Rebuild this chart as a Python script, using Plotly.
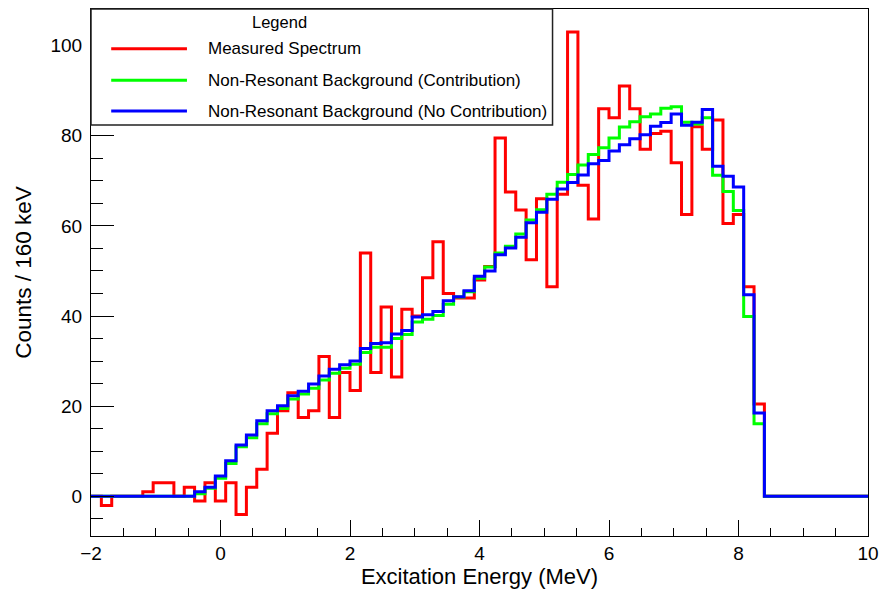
import numpy as np
import plotly.graph_objects as go

# Histogram binning (MeV)
x_min = -2.0
bin_width = 0.16
n_bins = 75

series_names = [
    "Measured Spectrum",
    "Non-Resonant Background (Contribution)",
    "Non-Resonant Background (No Contribution)",
]

measured = [0, -2, 0, 0, 0, 1, 3, 3, 0, 2,
            -1, 3, -1, 3, -4, 2, 6, 14, 19, 23,
            17.5, 19, 31, 17.5, 27.5, 23.5, 54, 27.5, 42, 26.5,
            41.5, 40, 48.5, 56.5, 45, 44, 44, 48, 51, 79.5,
            67.5, 63.5, 52.5, 66, 46.5, 67, 103, 69, 61.5, 86,
            84, 91, 86, 77, 80.5, 81, 74, 62.5, 82, 77,
            83.5, 60.5, 62.5, 46.5, 20.5, 0, 0, 0, 0, 0,
            0, 0, 0, 0, 0]

bg_contrib = [0, 0, 0, 0, 0, 0, 0, 0, 0, 0,
              0.6, 1.8, 4.0, 7.3, 11.0, 13.0, 16.1, 18.3, 19.5, 21.6,
              22.7, 24.0, 25.8, 27.3, 28.4, 29.3, 31.9, 33.1, 33.1, 35.0,
              35.9, 38.7, 39.3, 40.1, 42.6, 44.2, 45.4, 48.4, 50.9, 54.0,
              55.5, 58.2, 61.3, 63.6, 67.0, 69.7, 71.4, 73.5, 75.8, 77.3,
              79.5, 81.9, 83.1, 84.2, 84.8, 86.1, 86.4, 83.0, 82.6, 84.0,
              71.2, 67.6, 63.4, 39.9, 16.1, 0, 0, 0, 0, 0,
              0, 0, 0, 0, 0]

bg_nocontrib = [0, 0, 0, 0, 0, 0, 0, 0, 0, 0,
                1.0, 2.0, 4.5, 7.9, 11.4, 13.6, 16.8, 19.0, 20.1, 22.3,
                23.3, 24.9, 26.7, 28.2, 29.2, 30.0, 32.8, 33.9, 34.1, 36.0,
                36.8, 39.8, 40.3, 41.0, 43.4, 44.3, 45.6, 48.8, 50.0, 53.6,
                55.1, 57.5, 60.7, 63.0, 65.9, 68.2, 69.6, 71.3, 73.8, 74.5,
                76.6, 78.0, 79.3, 80.2, 82.1, 82.9, 84.8, 82.3, 83.0, 85.8,
                73.2, 71.0, 68.6, 44.7, 18.5, 0, 0, 0, 0, 0,
                0, 0, 0, 0, 0]

colors = ["#ff0000", "#00ff00", "#0000ff"]

edges = x_min + bin_width * np.arange(n_bins + 1)

fig = go.Figure()
for name, vals, col in zip(series_names, [measured, bg_contrib, bg_nocontrib], colors):
    fig.add_trace(go.Scatter(
        x=edges, y=list(vals) + [vals[-1]],
        mode="lines", name=name,
        line=dict(color=col, width=3, shape="hv"),
        showlegend=False, hoverinfo="skip",
    ))

FONT = "Liberation Sans, Arial, Helvetica, sans-serif"

# manual ROOT-style legend
shapes = [dict(type="rect", xref="paper", yref="paper", x0=0.0, x1=0.594, y0=0.780, y1=1.0,
               line=dict(color="#222222", width=1.5), fillcolor="white", layer="above")]
annotations = [dict(text="Legend", xref="paper", yref="paper", x=0.2425, y=0.9756,
                    showarrow=False, xanchor="center", yanchor="middle",
                    font=dict(family=FONT, size=16.5, color="black"))]
entry_y = [0.9248, 0.8647, 0.8064]
for name, col, yy in zip(series_names, colors, entry_y):
    shapes.append(dict(type="line", xref="paper", yref="paper", x0=0.026, x1=0.1235, y0=yy, y1=yy,
                       line=dict(color=col, width=3), layer="above"))
    annotations.append(dict(text=name, xref="paper", yref="paper", x=0.1478, y=yy,
                            showarrow=False, xanchor="left", yanchor="middle",
                            font=dict(family=FONT, size=17, color="black")))

fig.update_layout(
    width=887, height=592,
    margin=dict(l=91, r=12, t=8, b=52),
    paper_bgcolor="white", plot_bgcolor="white",
    font=dict(family=FONT, color="black"),
    shapes=shapes, annotations=annotations,
    xaxis=dict(
        range=[-2, 10], dtick=2, tick0=0,
        ticks="inside", ticklen=16, tickcolor="black", tickwidth=1,
        minor=dict(dtick=0.5, ticks="inside", ticklen=8, tickcolor="black", tickwidth=1),
        showline=True, linecolor="black", linewidth=1, mirror=True,
        showgrid=False, zeroline=False,
        tickfont=dict(family=FONT, size=19, color="black"),
        title=dict(text="Excitation Energy (MeV)", font=dict(family=FONT, size=22, color="black"), standoff=5),
    ),
    yaxis=dict(
        range=[-8.79, 108.1], dtick=20, tick0=0,
        ticks="inside", ticklen=23, tickcolor="black", tickwidth=1,
        minor=dict(dtick=5, ticks="inside", ticklen=12, tickcolor="black", tickwidth=1),
        showline=True, linecolor="black", linewidth=1, mirror=True,
        showgrid=False, zeroline=False,
        tickfont=dict(family=FONT, size=19, color="black"),
        ticklabelstandoff=4,
        title=dict(text="Counts / 160 keV", font=dict(family=FONT, size=22.5, color="black"), standoff=12),
    ),
)

fig.write_html("out.html")
